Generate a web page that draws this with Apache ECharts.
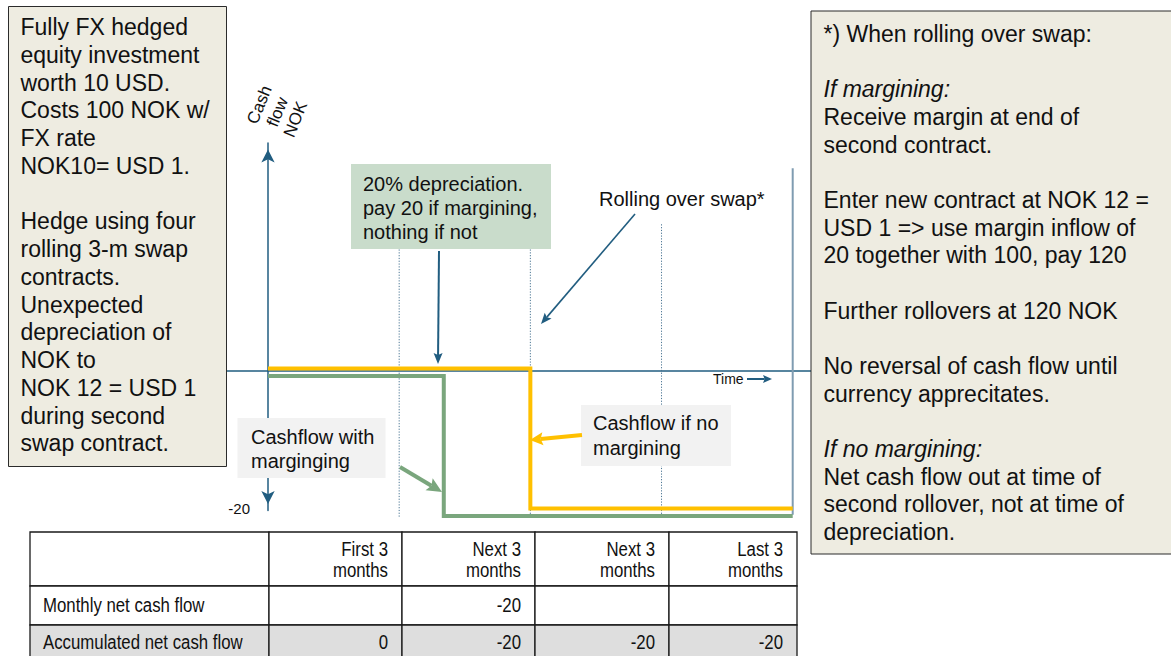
<!DOCTYPE html>
<html>
<head>
<meta charset="utf-8">
<title>FX hedge cash flow: margining vs. no margining</title>
<script src="https://cdn.jsdelivr.net/npm/echarts@6/dist/echarts.min.js"></script>
<style>
  html, body { margin: 0; padding: 0; background: #ffffff; }
  #chart { width: 1171px; height: 656px; }
</style>
</head>
<body>
<div id="chart"></div>
<script>
// ---- data ---------------------------------------------------------------
// Time is measured in quarters (0 = start, 4 = end of the four swap contracts).
const quarterBounds = [1, 2, 3];
const horizonEnd = [4];

// Net cash flow (NOK) without margining: the loss is paid at the second rollover.
const noMarginTime = [0, 2, 2, 4];
const noMarginFlow = [0, 0, -20, -20];

// Net cash flow (NOK) with margining: the margin call is paid at the depreciation.
const marginTime = [0, 1.34, 1.34, 4];
const marginFlow = [0, 0, -20, -20];

const yTickValues = [-20];

// Summary table
const periodLabels = ['First 3\nmonths', 'Next 3\nmonths', 'Next 3\nmonths', 'Last 3\nmonths'];
const rowLabels = ['Monthly net cash flow', 'Accumulated net cash flow'];
const monthlyNet = [null, -20, null, null];
const accumulatedNet = [0, -20, -20, -20];

// Side notes
const leftNote = [
  'Fully FX hedged', 'equity investment', 'worth 10 USD.', 'Costs 100 NOK w/',
  'FX rate', 'NOK10= USD 1.', '', 'Hedge using four', 'rolling 3-m swap',
  'contracts.', 'Unexpected', 'depreciation of', 'NOK to', 'NOK 12 = USD 1',
  'during second', 'swap contract.'
];
const rightNote = [
  '*) When rolling over swap:', '', 'If margining:', 'Receive margin at end of',
  'second contract.', '', 'Enter new contract at NOK 12 =',
  'USD 1 => use margin inflow of', '20 together with 100, pay 120', '',
  'Further rollovers at 120 NOK', '', 'No reversal of cash flow until',
  'currency apprecitates.', '', 'If no margining:', 'Net cash flow out at time of',
  'second rollover, not at time of', 'depreciation.'
];
const rightNoteItalic = [2, 15];

// ---- styling -----------------------------------------------------------
const FONT = '"Liberation Sans", Arial, sans-serif';
const INK = '#111111';
const AXIS_BLUE = '#215d80';
const YELLOW = '#ffc000';
const GREEN = '#7aa67d';

// vertical extents of the quarter dividers and horizon line (cash flow units)
const dividerTop = 20.6, dividerBottom = -21.3;
const horizonTop = 28.6, horizonBottom = -20.9;

const chart = echarts.init(document.getElementById('chart'), null, { renderer: 'svg' });

function arrow(x1, y1, x2, y2, color, width, headLen, headW) {
  const dx = x2 - x1, dy = y2 - y1, len = Math.hypot(dx, dy);
  const ux = dx / len, uy = dy / len, nx = -uy, ny = ux;
  const bx = x2 - ux * headLen, by = y2 - uy * headLen;
  const notch = headLen * 0.18;
  const mx = bx + ux * notch, my = by + uy * notch;
  return [
    { type: 'line', z: 30, shape: { x1: x1, y1: y1, x2: mx, y2: my },
      style: { stroke: color, lineWidth: width } },
    { type: 'polygon', z: 30,
      shape: { points: [[x2, y2], [bx + nx * headW / 2, by + ny * headW / 2], [mx, my], [bx - nx * headW / 2, by - ny * headW / 2]] },
      style: { fill: color } }
  ];
}

function textLines(lines, x, yFirst, lineH, size, italicIdx) {
  return lines.map((s, i) => ({
    type: 'text', z: 31, x: x, y: yFirst + i * lineH,
    style: {
      text: s, fill: INK, textAlign: 'left', textVerticalAlign: 'middle',
      font: ((italicIdx && italicIdx.indexOf(i) >= 0) ? 'italic ' : '') + size + 'px ' + FONT
    }
  }));
}

// ---- table --------------------------------------------------------------
const colEdges = [30, 269, 402, 535, 669, 797];
const rowEdges = [532, 586, 625, 662];
const rowFill = ['#ffffff', '#ffffff', '#dedede'];
const NARROW = 0.8;

function cellText(text, x, y, align, lineH) {
  return {
    type: 'text', z: 41, x: x, y: y, scaleX: NARROW,
    style: {
      text: text, fill: INK, font: '21px ' + FONT, lineHeight: lineH || 21,
      textAlign: align, textVerticalAlign: 'middle'
    }
  };
}

const tableEls = [];
for (let r = 0; r < 3; r++) {
  for (let c = 0; c < 5; c++) {
    tableEls.push({
      type: 'rect', z: 40,
      shape: { x: colEdges[c], y: rowEdges[r], width: colEdges[c + 1] - colEdges[c], height: rowEdges[r + 1] - rowEdges[r] },
      style: { fill: rowFill[r], stroke: '#1a1a1a', lineWidth: 1.3 }
    });
  }
}
periodLabels.forEach((p, i) => tableEls.push(cellText(p, colEdges[i + 2] - 14, 559.5, 'right', 21)));
rowLabels.forEach((l, r) => tableEls.push(cellText(l, 43, r === 0 ? 605 : 642, 'left')));
[monthlyNet, accumulatedNet].forEach((row, r) => {
  row.forEach((v, i) => {
    if (v === null) return;
    tableEls.push(cellText(String(v), colEdges[i + 2] - 14, r === 0 ? 605 : 642, 'right'));
  });
});

// ---- annotations --------------------------------------------------------
const annotations = [
  // notes
  { type: 'rect', z: 20, shape: { x: 8.5, y: 6.5, width: 218, height: 460 },
    style: { fill: '#eeece1', stroke: '#2b2b2b', lineWidth: 1 } },
  ...textLines(leftNote, 20.5, 27.3, 27.73, 23),
  { type: 'rect', z: 20, shape: { x: 811, y: 11, width: 380, height: 543 },
    style: { fill: '#eeece1', stroke: '#2b2b2b', lineWidth: 1 } },
  ...textLines(rightNote, 823.5, 34, 27.67, 23, rightNoteItalic),

  // callouts
  { type: 'rect', z: 20, shape: { x: 351, y: 164, width: 200, height: 85 }, style: { fill: '#c9dccb' } },
  ...textLines(['20% depreciation.', 'pay 20 if margining,', 'nothing if not'], 363, 184.3, 23.7, 20),
  ...arrow(439, 251, 438, 364, AXIS_BLUE, 2, 11, 9),

  ...textLines(['Rolling over swap*'], 599, 199.3, 24, 20),
  ...arrow(635, 214, 541, 324, AXIS_BLUE, 1.6, 11, 9),

  { type: 'rect', z: 20, shape: { x: 237.5, y: 418, width: 148, height: 60 }, style: { fill: '#f2f2f2' } },
  ...textLines(['Cashflow with', 'marginging'], 251, 436.7, 24, 20),
  ...arrow(400, 467, 442, 492, GREEN, 4, 15, 14),

  { type: 'rect', z: 20, shape: { x: 581, y: 405, width: 150, height: 61 }, style: { fill: '#f2f2f2' } },
  ...textLines(['Cashflow if no', 'margining'], 593, 423.3, 24.5, 20),
  ...arrow(582, 435, 530, 440, YELLOW, 4, 13, 13),

  // axis titles
  { type: 'text', z: 31, x: 713, y: 379,
    style: { text: 'Time', fill: INK, font: '14px ' + FONT, textAlign: 'left', textVerticalAlign: 'middle' } },
  ...arrow(747, 379, 772, 379, AXIS_BLUE, 2, 9, 8),
  { type: 'text', z: 31, x: 277.5, y: 112, rotation: 68 * Math.PI / 180,
    style: { text: 'Cash\nflow\nNOK', fill: INK, font: '17px ' + FONT, lineHeight: 19.5,
             textAlign: 'center', textVerticalAlign: 'middle' } },

  ...tableEls
];

// ---- chart --------------------------------------------------------------
function verticalRule(top, bottom, style) {
  return function (params, api) {
    const t = api.value(0);
    const p1 = api.coord([t, top]);
    const p2 = api.coord([t, bottom]);
    return { type: 'line', shape: { x1: p1[0], y1: p1[1], x2: p2[0], y2: p2[1] }, style: style };
  };
}

const option = {
  animation: false,
  backgroundColor: '#ffffff',
  grid: { left: 226, right: 359, top: 143, bottom: 145.5, outerBoundsMode: 'none', containLabel: false },
  xAxis: {
    type: 'value', min: -0.3202, max: 4.1471,
    axisLine: { onZero: true, onZeroAxisIndex: 1, lineStyle: { color: AXIS_BLUE, width: 1.5 } },
    axisTick: { show: false }, axisLabel: { show: false }, splitLine: { show: false }
  },
  yAxis: [
    { // cash flow axis (no-margining path is drawn against it)
      type: 'value', min: -20.29, max: 32.21,
      axisLine: { show: true, onZero: true, symbol: ['arrow', 'arrow'], symbolSize: [10, 13],
                  symbolOffset: [6.5, -6.5], lineStyle: { color: AXIS_BLUE, width: 1.5 } },
      axisTick: { show: false }, splitLine: { show: false },
      axisLabel: { customValues: yTickValues, margin: -24, color: INK, fontSize: 15, fontFamily: FONT }
    },
    { type: 'value', show: false, min: -19.96, max: 32.54 },
    { type: 'value', show: false, min: -19.21, max: 33.29 }
  ],
  series: [
    { type: 'custom', name: 'Quarter divider', xAxisIndex: 0, yAxisIndex: 0, clip: false, silent: true, z: 1,
      data: quarterBounds.map(t => [t, 0]),
      renderItem: verticalRule(dividerTop, dividerBottom, { stroke: '#4a7593', lineWidth: 1, lineDash: [1.2, 1.6] }) },
    { type: 'custom', name: 'Horizon', xAxisIndex: 0, yAxisIndex: 0, clip: false, silent: true, z: 1,
      data: horizonEnd.map(t => [t, 0]),
      renderItem: verticalRule(horizonTop, horizonBottom, { stroke: '#7f9cb1', lineWidth: 2 }) },
    { type: 'line', name: 'Cashflow if no margining', yAxisIndex: 0, clip: false, z: 5,
      showSymbol: false, symbol: 'none',
      data: noMarginTime.map((t, i) => [t, noMarginFlow[i]]),
      lineStyle: { color: YELLOW, width: 4, join: 'miter' } },
    { type: 'line', name: 'Cashflow with margining', yAxisIndex: 2, clip: false, z: 4,
      showSymbol: false, symbol: 'none',
      data: marginTime.map((t, i) => [t, marginFlow[i]]),
      lineStyle: { color: GREEN, width: 4, join: 'miter' } }
  ],
  graphic: { elements: annotations }
};

chart.setOption(option);
</script>
</body>
</html>
